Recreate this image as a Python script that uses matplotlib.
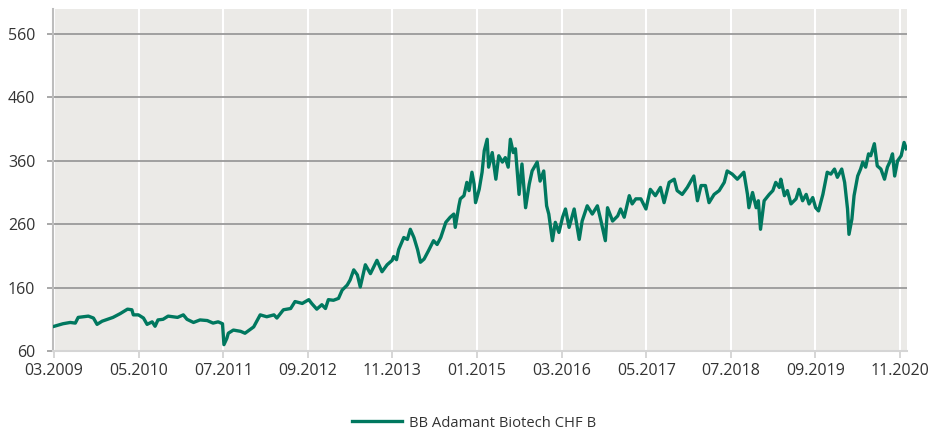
import matplotlib
matplotlib.use("Agg")
import matplotlib.pyplot as plt

# time in decimal years, value in index points
t = [2009.17, 2009.29, 2009.39, 2009.46, 2009.50, 2009.64, 2009.71, 2009.76, 2009.83, 2009.98,
     2010.08, 2010.18, 2010.24, 2010.26, 2010.33, 2010.40, 2010.45, 2010.52, 2010.56, 2010.60,
     2010.67, 2010.74, 2010.87, 2010.95, 2011.00, 2011.09, 2011.18, 2011.28, 2011.36, 2011.43,
     2011.49, 2011.51, 2011.55, 2011.57, 2011.64, 2011.74, 2011.80, 2011.92, 2012.01, 2012.10,
     2012.20, 2012.24, 2012.33, 2012.43, 2012.49, 2012.59, 2012.68, 2012.72, 2012.79, 2012.86,
     2012.91, 2012.95, 2013.02, 2013.09, 2013.14, 2013.21, 2013.25, 2013.30, 2013.35, 2013.39,
     2013.46, 2013.53, 2013.62, 2013.69, 2013.76, 2013.83, 2013.85, 2013.89, 2013.92, 2013.99,
     2014.04, 2014.08, 2014.13, 2014.18, 2014.22, 2014.27, 2014.33, 2014.40, 2014.45, 2014.50,
     2014.57, 2014.63, 2014.68, 2014.70, 2014.75, 2014.77, 2014.82, 2014.86, 2014.89, 2014.93,
     2014.96, 2014.98, 2015.03, 2015.07, 2015.10, 2015.14, 2015.16, 2015.21, 2015.26, 2015.30,
     2015.35, 2015.39, 2015.43, 2015.46, 2015.50, 2015.53, 2015.58, 2015.62, 2015.67, 2015.72,
     2015.76, 2015.83, 2015.87, 2015.92, 2015.96, 2015.99, 2016.04, 2016.08, 2016.13, 2016.18,
     2016.22, 2016.27, 2016.34, 2016.41, 2016.45, 2016.52, 2016.59, 2016.66, 2016.71, 2016.77,
     2016.80, 2016.87, 2016.94, 2016.98, 2017.03, 2017.10, 2017.14, 2017.19, 2017.26, 2017.33,
     2017.39, 2017.46, 2017.53, 2017.58, 2017.65, 2017.72, 2017.76, 2017.83, 2017.90, 2017.95,
     2017.99, 2018.04, 2018.09, 2018.15, 2018.20, 2018.27, 2018.34, 2018.41, 2018.45, 2018.52,
     2018.59, 2018.68, 2018.73, 2018.75, 2018.80, 2018.85, 2018.88, 2018.91, 2018.96, 2019.03,
     2019.08, 2019.12, 2019.17, 2019.19, 2019.24, 2019.28, 2019.33, 2019.40, 2019.44, 2019.49,
     2019.54, 2019.58, 2019.63, 2019.67, 2019.71, 2019.77, 2019.83, 2019.88, 2019.93, 2019.97,
     2020.03, 2020.07, 2020.11, 2020.13, 2020.17, 2020.20, 2020.25, 2020.29, 2020.32, 2020.36,
     2020.40, 2020.43, 2020.48, 2020.52, 2020.57, 2020.62, 2020.66, 2020.70, 2020.73, 2020.76,
     2020.80, 2020.85, 2020.89, 2020.92]
values = [99, 103, 105, 104, 113, 115, 112, 102, 107, 113,
          119, 126, 125, 117, 117, 112, 102, 106, 99, 109,
          110, 115, 113, 117, 110, 105, 109, 108, 104, 106,
          103, 70, 80, 88, 93, 91, 88, 98, 117, 114,
          117, 112, 125, 127, 138, 135, 141, 135, 126, 133,
          127, 141, 140, 143, 156, 164, 172, 188, 180, 161,
          196, 182, 203, 185, 196, 203, 209, 204, 220, 239,
          236, 252, 239, 220, 200, 205, 218, 234, 228, 239,
          263, 271, 276, 255, 289, 300, 305, 326, 313, 342,
          323, 294, 315, 342, 376, 394, 350, 373, 331, 368,
          358, 365, 350, 394, 373, 379, 307, 355, 286, 323,
          344, 358, 328, 344, 289, 276, 234, 263, 247, 271,
          284, 255, 284, 236, 265, 289, 276, 289, 265, 234,
          286, 265, 273, 284, 271, 305, 292, 300, 300, 284,
          315, 305, 318, 294, 326, 331, 313, 307, 318, 328,
          336, 297, 321, 321, 294, 307, 313, 326, 344, 339,
          331, 342, 307, 286, 310, 286, 297, 252, 297, 307,
          313, 326, 318, 331, 305, 313, 292, 300, 315, 297,
          307, 292, 302, 286, 281, 307, 342, 339, 347, 334,
          347, 326, 284, 244, 268, 305, 336, 347, 358, 350,
          371, 368, 387, 352, 347, 331, 350, 360, 371, 336,
          360, 368, 389, 379]

tick_pos = [2009 + 2/12 + i * 14/12 for i in range(11)]
tick_labels = ["03.2009", "05.2010", "07.2011", "09.2012", "11.2013", "01.2015",
               "03.2016", "05.2017", "07.2018", "09.2019", "11.2020"]
y_ticks = [60, 160, 260, 360, 460, 560]
series_name = "BB Adamant Biotech CHF B"

plt.rcParams['font.family'] = ['Open Sans', 'DejaVu Sans']

fig = plt.figure(figsize=(9.39, 4.33), dpi=100)
ax = fig.add_axes([0.0568, 0.1894, 0.9088, 0.7891])
ax.set_facecolor('#EBEAE7')

line_color = '#00785F'
ax.plot(t, values, color=line_color, lw=2.4, solid_joinstyle='round', zorder=3,
        label=series_name)

ax.set_xlim(2009.157, 2020.926)
ax.set_ylim(60, 599)
ax.set_xticks(tick_pos)
ax.set_xticklabels(tick_labels)
ax.set_yticks(y_ticks)

for x in tick_pos:
    ax.axvline(x, color='white', lw=1.5, zorder=1)
for y in y_ticks[1:]:
    ax.axhline(y, color='#9A9A9A', lw=1.3, zorder=2)

for s in ['top', 'right']:
    ax.spines[s].set_visible(False)
ax.spines['left'].set_color('#BDBDBD')
ax.spines['left'].set_linewidth(1.5)
ax.spines['bottom'].set_color('#D5D5D5')
ax.spines['bottom'].set_linewidth(1.5)

ax.tick_params(axis='y', length=4, width=1.2, color='#9A9A9A', labelsize=11.5,
               labelcolor='#333333', pad=9)
ax.tick_params(axis='x', length=5, width=1.2, color='#D0D0D0', labelsize=11.5,
               labelcolor='#333333', pad=4)

leg = fig.legend(handles=ax.get_lines()[:1], loc='center', bbox_to_anchor=(0.505, 0.023),
                 frameon=False, fontsize=10.6, handlelength=3.4, handletextpad=0.5)
for txt in leg.get_texts():
    txt.set_color('#333333')

fig.savefig('out.png', dpi=100)
